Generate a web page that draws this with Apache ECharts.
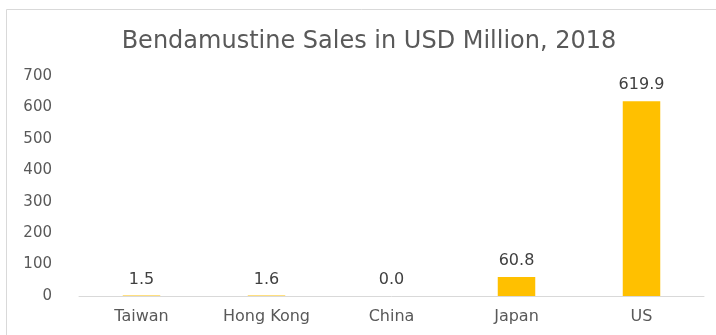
<!DOCTYPE html>
<html><head><meta charset="utf-8">
<script src="https://cdn.jsdelivr.net/npm/echarts@6/dist/echarts.min.js"></script>
<style>html,body{margin:0;padding:0;background:#fff}#c{width:716px;height:335px}</style>
</head><body><div id="c"></div>
<script>
const categories = ['Taiwan', 'Hong Kong', 'China', 'Japan', 'US'];
const sales = [1.5, 1.6, 0.0, 60.8, 619.9];
const chart = echarts.init(document.getElementById('c'));
const font = '"DejaVu Sans", sans-serif';
chart.setOption({
  animation: false,
  backgroundColor: '#fff',
  graphic: [{
    type: 'rect', shape: {x: 6.5, y: 9.5, width: 720, height: 340},
    style: {fill: 'none', stroke: '#d9d9d9', lineWidth: 1}, z: -1
  }],
  title: {
    text: 'Bendamustine Sales in USD Million, 2018',
    left: 364, top: 25, textAlign: 'center',
    textStyle: {fontFamily: font, fontSize: 24, fontWeight: 'normal', color: '#595959'}
  },
  grid: {left: 79, right: 12, top: 76, bottom: 39},
  xAxis: {
    type: 'category', data: categories,
    axisLine: {lineStyle: {color: '#d9d9d9', width: 1}},
    axisTick: {show: false},
    axisLabel: {fontFamily: font, fontSize: 16, color: '#595959', margin: 13}
  },
  yAxis: {
    type: 'value', min: 0, max: 700, interval: 100,
    splitLine: {show: false}, axisLine: {show: false}, axisTick: {show: false},
    axisLabel: {fontFamily: font, fontSize: 15, color: '#595959', margin: 27}
  },
  series: [{
    type: 'bar', data: sales, barWidth: '30%', z: 5,
    itemStyle: {color: '#FFC000'},
    label: {show: true, position: 'top', distance: 8, fontFamily: font, fontSize: 16, color: '#404040',
      formatter: p => p.value.toFixed(1)}
  }]
});
</script></body></html>
